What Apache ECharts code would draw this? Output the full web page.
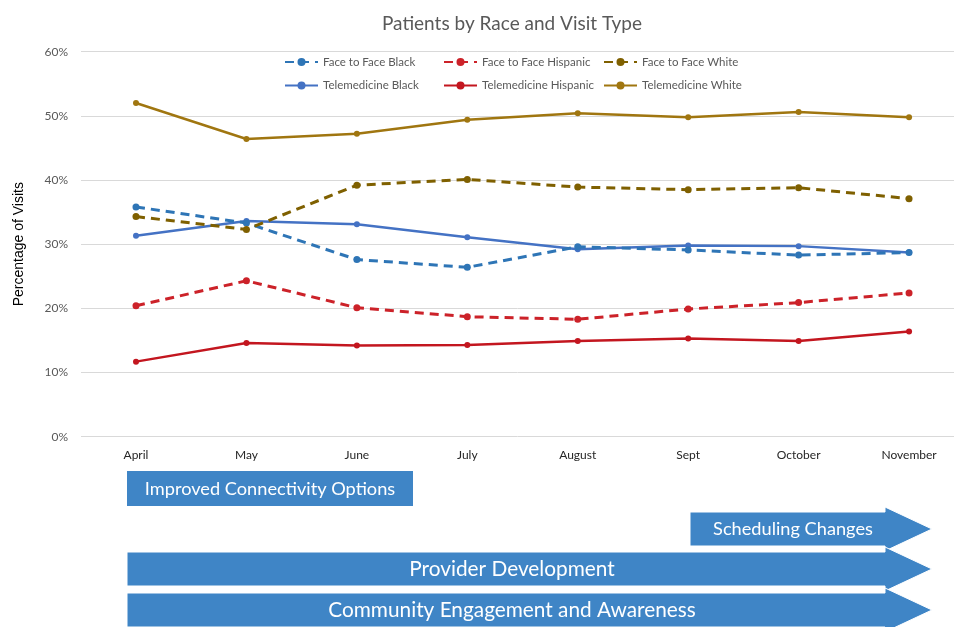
<!DOCTYPE html>
<html><head><meta charset="utf-8">
<script src="https://cdn.jsdelivr.net/npm/echarts@6/dist/echarts.min.js"></script>
<style>html,body{margin:0;padding:0;background:#fff}#c{width:954px;height:627px}</style>
</head><body><div id="c"></div>
<script>
const months = ['April','May','June','July','August','Sept','October','November'];
const yTicks = [0, 10, 20, 30, 40, 50, 60];
const ftfBlack    = [35.8, 33.3, 27.6, 26.4, 29.6, 29.1, 28.3, 28.7];
const ftfHispanic = [20.4, 24.3, 20.1, 18.7, 18.3, 19.9, 20.9, 22.4];
const ftfWhite    = [34.3, 32.3, 39.2, 40.1, 38.9, 38.5, 38.8, 37.1];
const teleBlack    = [31.3, 33.6, 33.1, 31.1, 29.2, 29.8, 29.7, 28.7];
const teleHispanic = [11.7, 14.6, 14.2, 14.3, 14.9, 15.3, 14.9, 16.4];
const teleWhite    = [52.0, 46.4, 47.2, 49.4, 50.4, 49.8, 50.6, 49.8];
const initiatives = ['Improved Connectivity Options','Scheduling Changes','Provider Development','Community Engagement and Awareness'];

const F = 'Lato, "Open Sans", sans-serif';
const idx = months.map((m, i) => i);
function s(name, data, color, dashed) {
  return {
    name, type: 'line', data: data.map((v, i) => [idx[i], v]),
    symbol: 'circle', symbolSize: dashed ? 7 : 6,
    lineStyle: { color, width: dashed ? 3 : 2.5, type: dashed ? [9, 6] : 'solid' },
    itemStyle: { color },
    z: dashed ? 3 : 2
  };
}
function legend(left, names) {
  return {
    orient: 'vertical', left, top: 51, data: names,
    itemWidth: 33, itemHeight: 10, itemGap: 11.5,
    textStyle: { fontFamily: F, fontSize: 11.5, color: '#595959', lineHeight: 11 }
  };
}
const chart = echarts.init(document.getElementById('c'));
const blue = '#3F85C6';
const g = [];
g.push({ type: 'rect', shape: { x: 127, y: 471, width: 286, height: 35 }, style: { fill: blue } });
g.push({ type: 'polygon', shape: { points: [[690,512],[885,512],[885,507],[932,529],[885,551],[885,546],[690,546]] }, style: { fill: blue, stroke: '#fff', lineWidth: 1 } });
g.push({ type: 'polygon', shape: { points: [[127,552],[885,552],[885,547],[932,569],[885,591],[885,586],[127,586]] }, style: { fill: blue, stroke: '#fff', lineWidth: 1 } });
g.push({ type: 'polygon', shape: { points: [[127,593],[885,593],[885,588],[932,610],[885,632],[885,627],[127,627]] }, style: { fill: blue, stroke: '#fff', lineWidth: 1 } });
const txt = [[270,489,18.2],[793,529,18.2],[512,569,20.8],[512,610,20.8]];
initiatives.forEach((t, i) => {
  g.push({ type: 'text', x: txt[i][0], y: txt[i][1], z: 10,
    style: { text: t, fill: '#fff', font: txt[i][2] + 'px ' + F, textAlign: 'center', textVerticalAlign: 'middle' } });
});

chart.setOption({
  animation: false,
  title: { text: 'Patients by Race and Visit Type', left: 507, top: 9, textAlign: 'center',
    textStyle: { fontFamily: F, fontSize: 19, fontWeight: 'normal', color: '#595959' } },
  legend: [
    legend(279, ['Face to Face Black', 'Telemedicine Black']),
    legend(438, ['Face to Face Hispanic', 'Telemedicine Hispanic']),
    legend(598, ['Face to Face White', 'Telemedicine White'])
  ],
  grid: { left: 81, top: 51.7, right: 0, height: 385 },
  xAxis: {
    type: 'value', min: -0.498, max: 7.407,
    axisLine: { show: false }, axisTick: { show: false }, splitLine: { show: false },
    axisLabel: { fontFamily: F, fontSize: 12, color: '#262626', margin: 12,
      customValues: idx, formatter: v => months[Math.round(v)] }
  },
  yAxis: {
    type: 'value', min: 0, max: 60, interval: 10,
    name: 'Percentage of Visits', nameLocation: 'middle', nameGap: 55,
    nameTextStyle: { fontFamily: '"Liberation Sans", Arial, sans-serif', fontSize: 14, color: '#000' },
    axisLine: { show: false }, axisTick: { show: false },
    axisLabel: { fontFamily: F, fontSize: 12, color: '#595959', margin: 13,
      formatter: v => yTicks.includes(v) ? v + '%' : '' },
    splitLine: { lineStyle: { color: '#D9D9D9', width: 1 } }
  },
  series: [
    s('Face to Face Black', ftfBlack, '#2E75B6', true),
    s('Face to Face Hispanic', ftfHispanic, '#CC2229', true),
    s('Face to Face White', ftfWhite, '#7F6000', true),
    s('Telemedicine Black', teleBlack, '#4472C4', false),
    s('Telemedicine Hispanic', teleHispanic, '#C3161F', false),
    s('Telemedicine White', teleWhite, '#A07610', false)
  ],
  graphic: g
});
</script></body></html>
